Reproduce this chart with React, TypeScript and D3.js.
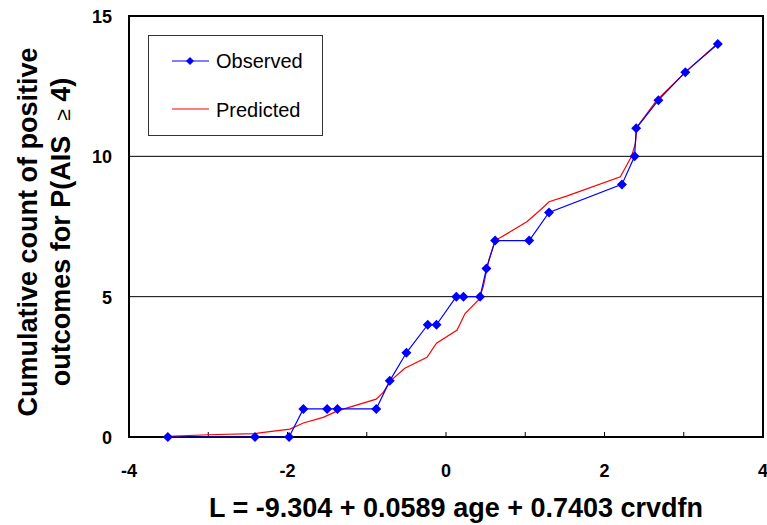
import React, { useEffect, useRef } from "react";
import * as d3 from "d3";

// observed cumulative counts
const obsX = [-3.51, -2.41, -1.98, -1.8, -1.5, -1.37, -0.88, -0.71, -0.5, -0.23, -0.12, 0.13, 0.22, 0.43, 0.51, 0.62, 1.05, 1.3, 2.22, 2.38, 2.4, 2.68, 3.02, 3.43];
const obsY = [0, 0, 0, 1, 1, 1, 1, 2, 3, 4, 4, 5, 5, 5, 6, 7, 7, 8, 9, 10, 11, 12, 13, 14];

// predicted curve
const predX = [-3.51, -3.0, -2.41, -2.35, -1.97, -1.8, -1.55, -1.37, -0.88, -0.79, -0.7, -0.52, -0.24, -0.12, 0.14, 0.24, 0.41, 0.47, 0.54, 0.62, 0.81, 1.02, 1.19, 1.3, 1.53, 2.2, 2.34, 2.39, 2.41, 2.66, 3.02, 3.42];
const predY = [0.02, 0.08, 0.12, 0.15, 0.28, 0.5, 0.7, 0.93, 1.35, 1.6, 2.0, 2.45, 2.84, 3.34, 3.81, 4.4, 4.88, 5.35, 6.3, 7.0, 7.31, 7.67, 8.09, 8.38, 8.59, 9.27, 9.99, 10.46, 11.05, 12.0, 13.0, 14.0];

const xTicks = [-4, -2, 0, 2, 4];
const yTicks = [0, 5, 10, 15];

const diamondPath = (r: number) => `M0,${-r}L${r},0L0,${r}L${-r},0Z`;

const App = () => {
  const ref = useRef<SVGSVGElement>(null);

  useEffect(() => {
    const width = 767;
    const height = 525;
    const m = { left: 129, right: 4, top: 16, bottom: 88 };
    const font = "Arial, 'Liberation Sans', sans-serif";

    const svg = d3.select(ref.current);
    svg.selectAll("*").remove();
    svg.attr("width", width).attr("height", height);

    const x = d3.scaleLinear().domain([-4, 4]).range([m.left, width - m.right]);
    const y = d3.scaleLinear().domain([0, 15]).range([height - m.bottom, m.top]);

    // gridlines
    svg.append("g")
      .selectAll("line")
      .data([5, 10])
      .enter()
      .append("line")
      .attr("x1", x(-4))
      .attr("x2", x(4))
      .attr("y1", (d) => y(d))
      .attr("y2", (d) => y(d))
      .attr("stroke", "#000")
      .attr("stroke-width", 1);

    // minor ticks on x axis (pointing inward)
    svg.append("g")
      .selectAll("line")
      .data(d3.range(-3, 4, 1))
      .enter()
      .append("line")
      .attr("x1", (d) => x(d))
      .attr("x2", (d) => x(d))
      .attr("y1", y(0))
      .attr("y2", y(0) - 5)
      .attr("stroke", "#000");

    // frame
    svg.append("rect")
      .attr("x", x(-4))
      .attr("y", y(15))
      .attr("width", x(4) - x(-4))
      .attr("height", y(0) - y(15))
      .attr("fill", "none")
      .attr("stroke", "#000")
      .attr("stroke-width", 2);

    // tick labels
    svg.append("g")
      .selectAll("text")
      .data(xTicks)
      .enter()
      .append("text")
      .attr("x", (d) => x(d))
      .attr("y", 477)
      .attr("text-anchor", "middle")
      .style("font-family", font)
      .style("font-weight", "bold")
      .style("font-size", "18px")
      .text((d) => d);

    svg.append("g")
      .selectAll("text")
      .data(yTicks)
      .enter()
      .append("text")
      .attr("x", 112)
      .attr("y", (d) => y(d) + 7)
      .attr("text-anchor", "end")
      .style("font-family", font)
      .style("font-weight", "bold")
      .style("font-size", "18px")
      .text((d) => d);

    // axis titles
    svg.append("text")
      .attr("x", 456)
      .attr("y", 517)
      .attr("text-anchor", "middle")
      .style("font-family", font)
      .style("font-weight", "bold")
      .style("font-size", "27px")
      .text("L = -9.304 + 0.0589 age + 0.7403 crvdfn");

    const yt = svg.append("text")
      .attr("transform", "translate(37,232) rotate(-90)")
      .attr("text-anchor", "middle")
      .style("font-family", font)
      .style("font-weight", "bold")
      .style("font-size", "27px")
      .style("white-space", "pre");
    yt.append("tspan").attr("x", 0).attr("dy", 0).text("Cumulative count of positive");
    const l2 = yt.append("tspan").attr("x", 0).attr("dy", 33);
    l2.append("tspan").text("outcomes for P(AIS  ");
    l2.append("tspan").style("font-weight", "normal").style("font-size", "21px").text("\u2265");
    l2.append("tspan").text(" 4)");

    // predicted line
    const pred = predX.map((v, i) => [v, predY[i]] as [number, number]);
    const obs = obsX.map((v, i) => [v, obsY[i]] as [number, number]);
    const line = d3.line<[number, number]>().x((d) => x(d[0])).y((d) => y(d[1]));

    svg.append("path")
      .datum(pred)
      .attr("d", line)
      .attr("fill", "none")
      .attr("stroke", "#ff0000")
      .attr("stroke-width", 1.2);

    svg.append("path")
      .datum(obs)
      .attr("d", line)
      .attr("fill", "none")
      .attr("stroke", "#0000ff")
      .attr("stroke-width", 1.2);

    svg.append("g")
      .selectAll("path")
      .data(obs)
      .enter()
      .append("path")
      .attr("d", diamondPath(5))
      .attr("transform", (d) => `translate(${x(d[0])},${y(d[1])})`)
      .attr("fill", "#0000ff");

    // legend
    const lg = svg.append("g");
    lg.append("rect")
      .attr("x", 148.5)
      .attr("y", 35.5)
      .attr("width", 174)
      .attr("height", 100)
      .attr("fill", "#fff")
      .attr("stroke", "#333")
      .attr("stroke-width", 1);
    lg.append("line")
      .attr("x1", 172).attr("x2", 209).attr("y1", 61).attr("y2", 61)
      .attr("stroke", "#0000ff").attr("stroke-width", 1.2);
    lg.append("path")
      .attr("d", diamondPath(4))
      .attr("transform", "translate(190,61)")
      .attr("fill", "#0000ff");
    lg.append("line")
      .attr("x1", 172).attr("x2", 209).attr("y1", 109).attr("y2", 109)
      .attr("stroke", "#ff0000").attr("stroke-width", 1.2);
    lg.append("text")
      .attr("x", 216).attr("y", 68)
      .style("font-family", font).style("font-size", "20px")
      .text("Observed");
    lg.append("text")
      .attr("x", 216).attr("y", 117)
      .style("font-family", font).style("font-size", "20px")
      .text("Predicted");
  }, []);

  return (
    <div style={{ position: "absolute", left: 0, top: 0 }}>
      <svg ref={ref}></svg>
    </div>
  );
};

export default App;
